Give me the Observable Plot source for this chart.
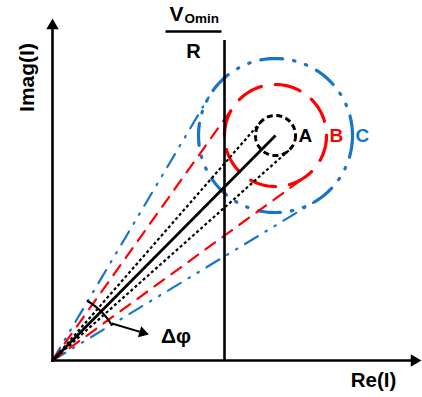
<!DOCTYPE html>
<html><head><meta charset="utf-8">
<script src="https://cdn.jsdelivr.net/npm/d3@7"></script>
<script src="https://cdn.jsdelivr.net/npm/@observablehq/plot@0.6"></script>
<style>body{margin:0;background:#fff}#chart svg{display:block}</style>
</head><body><div id="chart"></div>
<script>
// ---- data (phasor-plane units, origin = 0) ----
const circleNames = ["A", "B", "C"];
const circleRadii = [20, 51, 77];
const phasorCenter = [223, 225];        // [Re, Imag] of nominal current
const limitRe = 172;                     // V_Omin / R
const limitTop = 320;
const axisExtent = [369, 342];           // [Re max, Imag max]
const deltaPhiRadius = 69;
const axisLabels = ["Re(I)", "Imag(I)"];
const fractionText = ["V", "Omin", "R"];

// ---- styles ----
const colors = {A: "#000000", B: "#ff0000", C: "#1874c8"};
const circleDash = {A: "6,3.5", B: "26,14", C: "22,11,1.5,11,1.5,11"};
const tangentDash = {A: "3,2.5", B: "12,9", C: "15,9,1.5,9,1.5,9"};
const circleWidth = {A: 3, B: 3.2, C: 3.2};
const tangentWidth = {A: 2.2, B: 2.2, C: 2.2};
const font = "'Liberation Sans', Arial, Helvetica, sans-serif";

// ---- derived geometry ----
const [cx, cy] = phasorCenter;
const dist = Math.hypot(cx, cy);
const theta = Math.atan2(cy, cx);
const circles = circleNames.map((name, i) => ({name, r: circleRadii[i], cx, cy}));
function circlePts(c) {
  return d3.range(0, 361, 2).map(a => {
    const t = a * Math.PI / 180;
    return {x: c.cx + c.r * Math.cos(t), y: c.cy - c.r * Math.sin(t)};
  });
}
function tangents(c) {
  const alpha = Math.asin(c.r / dist);
  const L = Math.sqrt(dist * dist - c.r * c.r);
  return [theta + alpha, theta - alpha].map(t => ({x1: 0, y1: 0, x2: L * Math.cos(t), y2: L * Math.sin(t)}));
}
const alphaC = Math.asin(circleRadii[2] / dist);
const arcPts = d3.range(0, 41).map(i => {
  const t = theta - alphaC + (2 * alphaC) * i / 40;
  return {x: deltaPhiRadius * Math.cos(t), y: deltaPhiRadius * Math.sin(t)};
});
const arcEnd = {x: 70 * Math.cos(theta - alphaC * 0.95), y: 70 * Math.sin(theta - alphaC * 0.95)};
const arrowTip = {x: arcEnd.x + 37, y: arcEnd.y - 11};
const ux = (arrowTip.x - arcEnd.x) / Math.hypot(arrowTip.x - arcEnd.x, arrowTip.y - arcEnd.y);
const uy = (arrowTip.y - arcEnd.y) / Math.hypot(arrowTip.x - arcEnd.x, arrowTip.y - arcEnd.y);
const headR = 4.2;
const tipOff = 2 * Math.sqrt(headR * headR * Math.PI / (3 * Math.sqrt(3)));
const arrowRot = 90 - Math.atan2(uy, ux) * 180 / Math.PI;
const axHeadR = 4.6;
const axTipOff = 2 * Math.sqrt(axHeadR * axHeadR * Math.PI / (3 * Math.sqrt(3)));

const marks = [];
// circles
circles.forEach(c => {
  marks.push(Plot.line(circlePts(c), {x: "x", y: "y", stroke: colors[c.name], strokeWidth: circleWidth[c.name], strokeDasharray: circleDash[c.name], strokeLinecap: c.name === "A" ? "butt" : "round"}));
});
// tangent lines
circles.slice().reverse().forEach(c => {
  marks.push(Plot.link(tangents(c), {x1: "x1", y1: "y1", x2: "x2", y2: "y2", stroke: colors[c.name], strokeWidth: tangentWidth[c.name], strokeDasharray: tangentDash[c.name], strokeLinecap: c.name === "A" ? "butt" : "round"}));
});
// nominal phasor
marks.push(Plot.link([{x1: 0, y1: 0, x2: cx, y2: cy}], {x1: "x1", y1: "y1", x2: "x2", y2: "y2", stroke: "black", strokeWidth: 2.8}));
// limit line
marks.push(Plot.ruleX([limitRe], {y1: 0, y2: limitTop, stroke: "black", strokeWidth: 2.6}));
// fraction
marks.push(Plot.link([{x1: limitRe - 59, x2: limitRe - 3, y: 329}], {x1: "x1", x2: "x2", y1: "y", y2: "y", stroke: "black", strokeWidth: 2.6}));
marks.push(Plot.text([fractionText[0]], {x: limitRe, y: 340, dx: -41, text: d => d, textAnchor: "end", lineAnchor: "bottom", fontSize: 21, fontWeight: "bold", fill: "black", fontFamily: font}));
marks.push(Plot.text([fractionText[1]], {x: limitRe, y: 338, dx: -40, text: d => d, textAnchor: "start", lineAnchor: "bottom", fontSize: 13.5, fontWeight: "bold", fill: "black", fontFamily: font}));
marks.push(Plot.text([fractionText[2]], {x: limitRe, y: 303, dx: -31, text: d => d, textAnchor: "middle", lineAnchor: "bottom", fontSize: 20, fontWeight: "bold", fill: "black", fontFamily: font}));
// circle labels
marks.push(Plot.text(circles, {x: d => d.cx + d.r, y: "cy", dx: 3, text: "name", fill: d => colors[d.name], textAnchor: "start", lineAnchor: "middle", fontSize: 19, fontWeight: "bold", fontFamily: font}));
// delta phi arc + arrow
marks.push(Plot.line(arcPts, {x: "x", y: "y", stroke: "black", strokeWidth: 2.2}));
marks.push(Plot.link([{x1: arcEnd.x, y1: arcEnd.y, x2: arrowTip.x - ux * tipOff, y2: arrowTip.y - uy * tipOff}], {x1: "x1", y1: "y1", x2: "x2", y2: "y2", stroke: "black", strokeWidth: 2}));
marks.push(Plot.dot([{x: arrowTip.x - ux * tipOff, y: arrowTip.y - uy * tipOff}], {x: "x", y: "y", symbol: "triangle", r: headR, fill: "black", rotate: arrowRot}));
marks.push(Plot.text(["Δφ"], {x: arrowTip.x + 12, y: 18, text: d => d, textAnchor: "start", lineAnchor: "bottom", fontSize: 21, fontWeight: "bold", fill: "black", fontFamily: font}));
// axes
marks.push(Plot.link([{x1: 0, y1: 0, x2: axisExtent[0] - axTipOff, y2: 0}, {x1: 0, y1: 0, x2: 0, y2: axisExtent[1] - axTipOff}], {x1: "x1", y1: "y1", x2: "x2", y2: "y2", stroke: "black", strokeWidth: 2.6, strokeLinecap: "square"}));
marks.push(Plot.dot([{x: axisExtent[0] - axTipOff, y: 0, rot: 90}, {x: 0, y: axisExtent[1] - axTipOff, rot: 0}], {x: "x", y: "y", symbol: "triangle", r: axHeadR, fill: "black", rotate: "rot"}));
marks.push(Plot.text([axisLabels[0]], {x: axisExtent[0] - 48, y: -20, text: d => d, textAnchor: "middle", lineAnchor: "middle", fontSize: 20.5, fontWeight: "bold", fill: "black", fontFamily: font}));
marks.push(Plot.text([axisLabels[1]], {x: -25, y: 283, text: d => d, rotate: -90, textAnchor: "middle", lineAnchor: "middle", fontSize: 21, fontWeight: "bold", fill: "black", fontFamily: font}));

const chart = Plot.plot({
  width: 422, height: 397, margin: 0,
  x: {domain: [-52, 370], axis: null},
  y: {domain: [-37, 360], axis: null},
  style: {background: "white", fontFamily: font},
  marks
});
document.getElementById("chart").append(chart);
</script>
</body></html>
